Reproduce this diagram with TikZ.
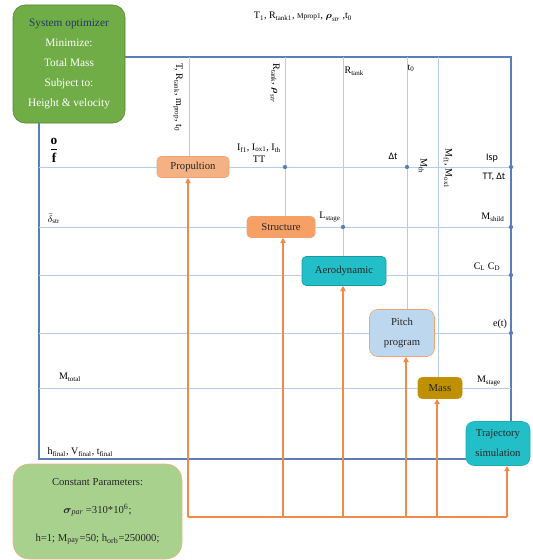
\documentclass[tikz,border=0pt]{standalone}
\usepackage{amsmath}
\usepackage{fontspec}
\setmainfont{Liberation Serif}
\newfontfamily\calfont{Carlito}
\usetikzlibrary{arrows.meta}

\definecolor{frameblue}{HTML}{5B7DB8}
\definecolor{gridblue}{HTML}{B4CBEA}
\definecolor{linkorange}{HTML}{F08A4B}
\definecolor{optgreen}{HTML}{70AD47}
\definecolor{optedge}{HTML}{548235}
\definecolor{optblue}{HTML}{1F3864}
\definecolor{propfill}{HTML}{F4B183}
\definecolor{structfill}{HTML}{F7A066}
\definecolor{tealfill}{HTML}{22BFC8}
\definecolor{pitchfill}{HTML}{BDD7EE}
\definecolor{massfill}{HTML}{BF9000}
\definecolor{constfill}{HTML}{A9D18E}

\tikzset{
  block/.style={draw=linkorange!80, rounded corners=3pt, align=center, inner sep=1pt,
    text=black!85, font=\fontsize{8}{9.5}\selectfont},
  lbl/.style={font=\fontsize{7.5}{9}\selectfont, inner sep=1pt},
  sanslbl/.style={lbl, font=\calfont\fontsize{7.5}{9}\selectfont},
  vlbl/.style={lbl, rotate=-90, anchor=west},
  gridline/.style={gridblue, line width=0.6pt},
  frameline/.style={frameblue, line width=0.8pt},
  link/.style={linkorange, line width=0.8pt},
  feed/.style={link, -{Triangle[length=4pt,width=4pt]}},
  blobdot/.style={fill=frameblue}
}

\begin{document}
\begin{tikzpicture}[x=0.75pt,y=-0.75pt]
    \useasboundingbox (0,0) rectangle (532,560);

    % blocks
    \node[block, fill=optgreen, draw=optedge, rounded corners=9pt, minimum width=84pt,
      minimum height=88.5pt, text=white, font=\fontsize{8.5}{15}\selectfont] (opt) at (69,64)
      {\textcolor{optblue}{System optimizer}\\Minimize:\\Total Mass\\Subject to:\\Height \& velocity};
    \node[block, fill=propfill, minimum width=54pt, minimum height=15.75pt] (prop) at (193,167) {Propultion};
    \node[block, fill=structfill, minimum width=51pt, minimum height=15.75pt] (struct) at (281,227) {Structure};
    \node[block, fill=tealfill, draw=tealfill!80!black, minimum width=63pt, minimum height=21.75pt] (aero) at (344,271) {Aerodynamic};
    \node[block, fill=pitchfill, rounded corners=6pt, minimum width=48.75pt, minimum height=35.25pt,
      font=\fontsize{8}{15}\selectfont] (pitch) at (402,333) {Pitch\\program};
    \node[block, fill=massfill, draw=massfill!80!orange, minimum width=33pt, minimum height=15.75pt] (mass) at (440,388) {Mass};
    \node[block, fill=tealfill, draw=tealfill!90!black, rounded corners=6pt, minimum width=48pt, minimum height=33pt,
      font=\fontsize{8}{15}\selectfont] (traj) at (498,443.5) {Trajectory\\simulation};
    \node[block, fill=constfill, draw=propfill, rounded corners=12pt, minimum width=126.75pt, minimum height=71.25pt,
      font=\fontsize{8}{21}\selectfont] (const) at (97.5,511.5)
      {Constant Parameters:\\$\boldsymbol{\sigma}_{\mathit{par}}$ =310*10\textsuperscript{6};\\h=1; M\textsubscript{pay}=50; h\textsubscript{orb}=250000;};

    % frame
    \coordinate (tl) at (39,57);
    \coordinate (tr) at (511,57);
    \coordinate (bl) at (39,459);
    \draw[frameline] (opt.east |- tl) -- (tr) -- (tr |- traj.north);
    \draw[frameline] (tl |- opt.south) -- (bl) -- (bl -| traj.west);

    % rows
    \coordinate (r3) at (39,275);
    \draw[gridline] (bl |- prop) -- (prop.west) (prop.east) -- (tr |- prop);
    \draw[gridline] (bl |- struct) -- (struct.west) (struct.east) -- (tr |- struct);
    \draw[gridline] (r3) -- (r3 -| aero.west) (r3 -| aero.east) -- (r3 -| tr);
    \draw[gridline] (bl |- pitch) -- (pitch.west) (pitch.east) -- (tr |- pitch);
    \draw[gridline] (bl |- mass) -- (mass.west) (mass.east) -- (tr |- mass);

    % columns
    \coordinate (c1) at (189,57);
    \coordinate (c2) at (285,57);
    \coordinate (c3) at (343,57);
    \coordinate (c4) at (407,57);
    \coordinate (c5) at (438,57);
    \draw[gridline] (c1) -- (c1 |- prop.north);
    \draw[gridline] (c2) -- (c2 |- struct.north);
    \draw[gridline] (c3) -- (c3 |- aero.north);
    \draw[gridline] (c4) -- (c4 |- pitch.north);
    \draw[gridline] (c5) -- (c5 |- mass.north);

    % junctions
    \foreach \p in {c2 |- prop, c4 |- prop, tr |- prop, c3 |- struct, tr |- struct, tr |- r3, tr |- pitch}
      \fill[blobdot] (\p) circle (1.6pt);

    % constant parameters feed
    \coordinate (fprop) at (188,517);
    \coordinate (ftraj) at (507,517);
    \draw[link] (fprop) -- (ftraj);
    \draw[feed] (fprop) -- (fprop |- prop.south);
    \foreach \n/\x in {struct/283, aero/343, pitch/406, mass/437, traj/507} {
      \coordinate (f\n) at (\x,517);
      \draw[feed] (f\n) -- (f\n |- \n.south);
    }

    % labels
    \node[lbl] (toplbl) at (303,17) {T\textsubscript{1}, R\textsubscript{tank1}, {\fontsize{5.5}{6}\selectfont Mprop1}, $\boldsymbol{\rho}_{\mathit{str}}$ ,t\textsubscript{0}};
    \node[vlbl] (inprop) at (178,62) {T, R\textsubscript{tank}, m\textsubscript{prop}, t\textsubscript{0}};
    \node[vlbl] (instruct) at (275,62) {R\textsubscript{tank}, $\boldsymbol{\rho}_{\mathit{str}}$};
    \node[lbl, anchor=west] (rtank) at (343,71) {R\textsubscript{tank}};
    \node[lbl, anchor=west] (tzero) at (406,68) {t\textsubscript{0}};
    \node[lbl, align=center, anchor=south] (propout) at (259,164) {I\textsubscript{f1}, I\textsubscript{ox1}, I\textsubscript{th}\\TT};
    \node[sanslbl] (dtlbl) at (393,156) {Δt};
    \node[vlbl] (mth) at (423,157) {M\textsubscript{th}};
    \node[vlbl] (mfox) at (448,147) {M\textsubscript{f1}, M\textsubscript{ox1}};
    \node[sanslbl] (isp) at (492,158) {Isp};
    \node[sanslbl] (ttdt) at (494,177) {TT, Δt};
    \node[lbl, font=\fontsize{10}{12}\selectfont] (ofr) at (54,150) {$\dfrac{\mathbf{o}}{\mathbf{f}}$};
    \node[lbl, anchor=west] (dstr) at (46,219) {$\bar{\delta}_{\mathrm{str}}$};
    \node[lbl] (lstage) at (330,217) {L\textsubscript{stage}};
    \node[lbl] (mshild) at (493,217) {M\textsubscript{shild}};
    \node[lbl] (clcd) at (487,267) {C\textsubscript{L} C\textsubscript{D}};
    \node[lbl] (etl) at (500,324) {e(t)};
    \node[lbl] (mtotal) at (70,377) {M\textsubscript{total}};
    \node[lbl] (mstage) at (489,381) {M\textsubscript{stage}};
    \node[lbl, anchor=west] (hvt) at (46,452) {h\textsubscript{final}, V\textsubscript{final}, t\textsubscript{final}};
\end{tikzpicture}
\end{document}
